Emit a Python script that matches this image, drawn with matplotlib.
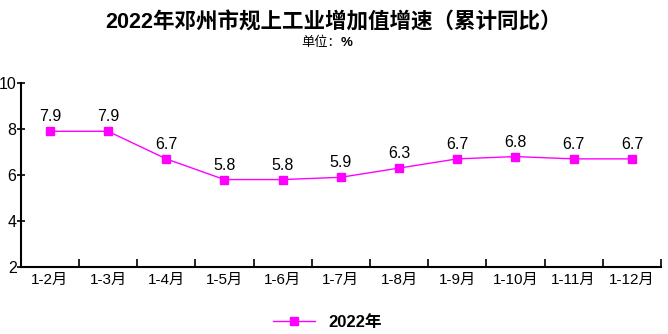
import numpy as np
import matplotlib
matplotlib.use("Agg")
from matplotlib import pyplot as plt

plt.rcParams["font.family"] = ["Liberation Sans", "Noto Sans CJK SC", "DejaVu Sans"]

categories = ["1-2月", "1-3月", "1-4月", "1-5月", "1-6月", "1-7月",
              "1-8月", "1-9月", "1-10月", "1-11月", "1-12月"]
values = [7.9, 7.9, 6.7, 5.8, 5.8, 5.9, 6.3, 6.7, 6.8, 6.7, 6.7]
series_name = "2022年"
title = "2022年邓州市规上工业增加值增速（累计同比）"
unit_label = "单位："
unit = "%"

fig = plt.figure(figsize=(6.68, 3.34), dpi=100)
ax = fig.add_axes([0.031, 0.2006, 0.9585, 0.551])

x = np.arange(len(categories))
ax.plot(x, values, color="#FF00FF", lw=1.0, marker="s", ms=5.5,
        label=series_name)
for xi, v in zip(x, values):
    ax.annotate(f"{v:.1f}", (xi, v), xytext=(0, 5), textcoords="offset points",
                ha="center", va="bottom", fontsize=11.5)

ax.set_xlim(-0.5, len(categories) - 0.5)
ax.set_ylim(2, 10)
ax.set_yticks([2, 4, 6, 8, 10])
ax.tick_params(axis="y", direction="inout", length=6, width=1.2, labelsize=11.5, pad=0)
ax.set_xticks(x)
ax.set_xticklabels(categories, fontsize=11)
ax.tick_params(axis="x", which="major", length=0, pad=4)
ax.set_xticks(np.arange(0.5, len(categories), 1.0), minor=True)
ax.tick_params(axis="x", which="minor", direction="in", length=6, width=1.2)

for s in ["top", "right"]:
    ax.spines[s].set_visible(False)
for s in ["left", "bottom"]:
    ax.spines[s].set_linewidth(1.5)

fig.text(0.5, 0.93, title, ha="center", va="center", fontsize=15.5, fontweight="bold")
fig.text(0.51, 0.872, unit_label, ha="right", va="center", fontsize=9.5)
fig.text(0.51, 0.872, unit, ha="left", va="center", fontsize=9.5, fontweight="bold")

fig.legend(loc="center", bbox_to_anchor=(0.49, 0.035), frameon=False,
           prop={"size": 12, "weight": "bold"}, handlelength=2.5, handletextpad=0.8)

fig.savefig("out.png", dpi=100)
